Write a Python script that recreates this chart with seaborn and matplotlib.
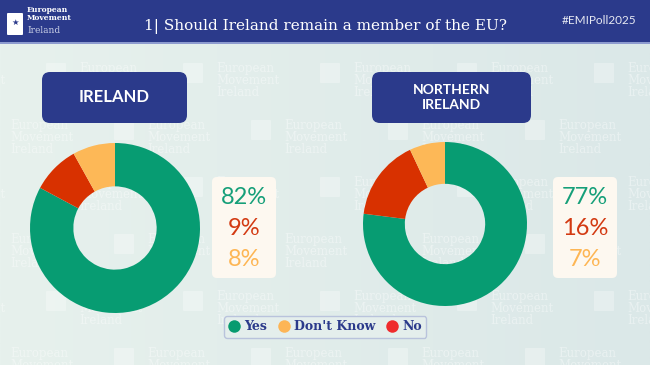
import numpy as np
import pandas as pd
import seaborn as sns
import matplotlib.pyplot as plt
from matplotlib.patches import FancyBboxPatch, Rectangle
from matplotlib.lines import Line2D

# chart data
regions = ["IRELAND", "NORTHERN\nIRELAND"]
answers = ["Yes", "No", "Don't Know"]
ireland_pct = [82, 9, 8]
ni_pct = [77, 16, 7]
legend_order = ["Yes", "Don't Know", "No"]
title = "1| Should Ireland remain a member of the EU?"
hashtag = "#EMIPoll2025"

sns.set_theme(style="white")
plt.rcParams['font.family'] = ['Lato', 'DejaVu Sans']

pie_colors = {"Yes": "#079c72", "No": "#d83100", "Don't Know": "#fdb857"}
text_colors = {"Yes": "#159f79", "No": "#d33a12", "Don't Know": "#fdb654"}
legend_colors = {"Yes": "#079b6f", "Don't Know": "#fdb556", "No": "#ef2b2d"}
navy = "#2b3a8b"

W, H = 650, 365
fig = plt.figure(figsize=(W / 100, H / 100), dpi=100)

# background axes in pixel coordinates
bg = fig.add_axes([0, 0, 1, 1])
bg.set_xlim(0, W)
bg.set_ylim(H, 0)
bg.axis("off")
grad = np.linspace(0, 1, 256)[None, :]
cmap = sns.blend_palette(["#e7f1ed", "#dbe8e8"], as_cmap=True)
bg.imshow(grad, extent=[0, W, H, 0], aspect="auto", cmap=cmap, zorder=0)

# faint watermark logos
for r, y in enumerate(range(62, 380, 57)):
    off = 0 if r % 2 == 0 else 68
    for x in range(-60 + off, W + 40, 137):
        bg.text(x + 2, y, "European\nMovement\nIreland", fontsize=8.5, family="DejaVu Serif",
                color="white", alpha=0.4, va="top", ha="left", linespacing=0.9, zorder=1)
        bg.add_patch(FancyBboxPatch((x - 30, y + 2), 18, 18, boxstyle="round,pad=1",
                                    fc="white", ec="none", alpha=0.3, zorder=1))

# header band
bg.add_patch(Rectangle((0, 0), W, 42, fc=navy, ec="none", zorder=2))
bg.add_patch(Rectangle((0, 42), W, 2, fc="#8d9bcf", ec="none", zorder=2))
bg.text(325, 27, title, ha="center", va="center", color="white", fontsize=11,
        family="DejaVu Serif", zorder=3)
bg.text(636, 20, hashtag, ha="right", va="center", color="#e6e8f2", fontsize=8.5, zorder=3)
bg.add_patch(FancyBboxPatch((8, 14), 14, 20, boxstyle="round,pad=1", fc="white", ec="none", zorder=3))
bg.text(15, 22, "\u2605", ha="center", va="center", color=navy, fontsize=6, family="DejaVu Sans", zorder=4)
bg.text(27, 6, "European\nMovement", ha="left", va="top", color="white", fontsize=5.5,
        family="DejaVu Serif", weight="bold", linespacing=0.95, zorder=3)
bg.text(27, 26, "Ireland", ha="left", va="top", color="#c9cfe6", fontsize=6.5,
        family="DejaVu Serif", zorder=3)

# per-region panels: (title box, pie box in px, value box)
panels = [
    dict(name=regions[0], vals=ireland_pct, tbox=(42, 72, 145, 51), tsize=12,
         pie=(115, 228, 85), vbox=(212, 177, 64, 101)),
    dict(name=regions[1], vals=ni_pct, tbox=(372, 72, 159, 51), tsize=10,
         pie=(445, 224, 82), vbox=(553, 177, 64, 101)),
]

for p in panels:
    x, y, w, h = p["tbox"]
    bg.add_patch(FancyBboxPatch((x, y), w, h, boxstyle="round,pad=0,rounding_size=8",
                                fc=navy, ec="none", zorder=3))
    bg.text(x + w / 2, y + h / 2, p["name"], ha="center", va="center", color="white",
            fontsize=p["tsize"], weight="bold", linespacing=1.3, zorder=4)

    vx, vy, vw, vh = p["vbox"]
    bg.add_patch(FancyBboxPatch((vx, vy), vw, vh, boxstyle="round,pad=0,rounding_size=5",
                                fc="#fdf8f0", ec="none", zorder=3))
    df = pd.DataFrame({"answer": answers, "pct": p["vals"]})
    for i, row in df.iterrows():
        bg.text(vx + vw / 2, vy + 20 + i * 31.5, f"{row['pct']}%", ha="center", va="center",
                color=text_colors[row["answer"]], fontsize=17, zorder=4)

    cx, cy, r = p["pie"]
    ax = fig.add_axes([(cx - r) / W, (H - cy - r) / H, 2 * r / W, 2 * r / H])
    ax.pie(df["pct"], colors=[pie_colors[a] for a in df["answer"]], startangle=90,
           counterclock=False, wedgeprops=dict(width=0.51, linewidth=0))
    ax.set_xlim(-1, 1)
    ax.set_ylim(-1, 1)
    ax.set_aspect("equal")
    ax.axis("off")

# legend
handles = [Line2D([], [], marker="o", linestyle="none", markersize=9,
                  markerfacecolor=legend_colors[a], markeredgecolor="none", label=a)
           for a in legend_order]
leg = fig.legend(handles=handles, ncol=3, loc="center", bbox_to_anchor=(325 / W, 1 - 327 / H),
                 frameon=True, fancybox=True, handletextpad=0.35, columnspacing=0.9,
                 borderpad=0.35, handlelength=0.9,
                 prop=dict(family="DejaVu Serif", weight="bold", size=9))
leg.get_frame().set_facecolor("#e4eeec")
leg.get_frame().set_edgecolor("#b9c3dc")
leg.get_frame().set_alpha(1)
for t in leg.get_texts():
    t.set_color(navy)

fig.savefig("out.png", dpi=100)
